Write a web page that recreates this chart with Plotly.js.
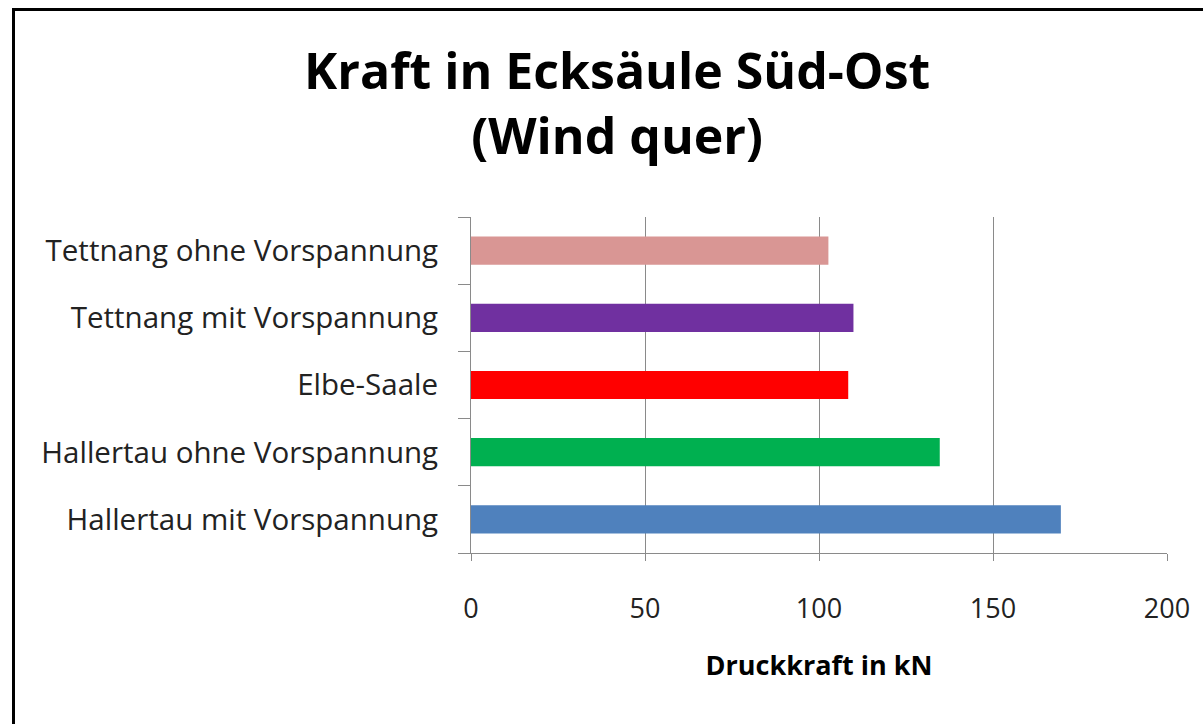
<!DOCTYPE html>
<html>
<head>
<meta charset="utf-8">
<script src="https://cdn.plot.ly/plotly-3.0.1.min.js"></script>
<style>
html,body{margin:0;padding:0;background:#fff;}
#wrap{position:relative;width:1203px;height:724px;}
#chart{position:absolute;left:0;top:0;width:1203px;height:724px;}
#frame{position:absolute;left:12px;top:8px;width:1191px;height:716px;border-left:3px solid #000;border-top:3px solid #000;pointer-events:none;box-sizing:border-box;}
</style>
</head>
<body>
<div id="wrap"><div id="chart"></div><div id="frame"></div></div>
<script>
const categories = [
  "Hallertau mit Vorspannung",
  "Hallertau ohne Vorspannung",
  "Elbe-Saale",
  "Tettnang mit Vorspannung",
  "Tettnang ohne Vorspannung"
];
const values = [169.5, 134.7, 108.4, 109.9, 102.7];
const barColors = ["#4F81BD", "#00B050", "#FF0000", "#7030A0", "#D99694"];
const xTicks = [0, 50, 100, 150, 200];

const font = "'Open Sans', Lato, sans-serif";

Plotly.newPlot("chart", [{
  type: "bar",
  orientation: "h",
  y: categories,
  x: values,
  width: 0.42,
  marker: {color: barColors},
  hoverinfo: "x+y"
}], {
  width: 1203, height: 724,
  paper_bgcolor: "#fff", plot_bgcolor: "#fff",
  margin: {l: 471, r: 36, t: 217, b: 171},
  showlegend: false,
  title: {
    text: "<b>Kraft in Ecksäule Süd-Ost<br>(Wind quer)</b>",
    font: {family: font, size: 50, color: "#000"},
    x: 0.513, xref: "container", xanchor: "center",
    y: 0.877, yref: "container", yanchor: "top"
  },
  xaxis: {
    range: [0, 200],
    tickvals: xTicks,
    ticktext: xTicks.map(String),
    showgrid: true, gridcolor: "#8a8a8a", gridwidth: 1,
    zeroline: false,
    showline: true, linecolor: "#8a8a8a", linewidth: 1,
    ticks: "outside", ticklen: 7, tickcolor: "#8a8a8a",
    ticklabelstandoff: 25,
    tickfont: {family: font, size: 27, color: "#222"},
    title: {text: "<b>Druckkraft in kN</b>", font: {family: font, size: 27, color: "#000"}, standoff: 30},
    fixedrange: true
  },
  yaxis: {
    type: "category",
    categoryorder: "array", categoryarray: categories,
    showgrid: false, zeroline: false,
    showline: true, linecolor: "#8a8a8a", linewidth: 1,
    ticks: "outside", ticklen: 12, tickcolor: "#8a8a8a",
    tickson: "boundaries",
    ticklabelstandoff: 26,
    tickfont: {family: font, size: 29.5, color: "#222"},
    fixedrange: true
  }
}, {displayModeBar: false, staticPlot: true});
</script>
</body>
</html>
